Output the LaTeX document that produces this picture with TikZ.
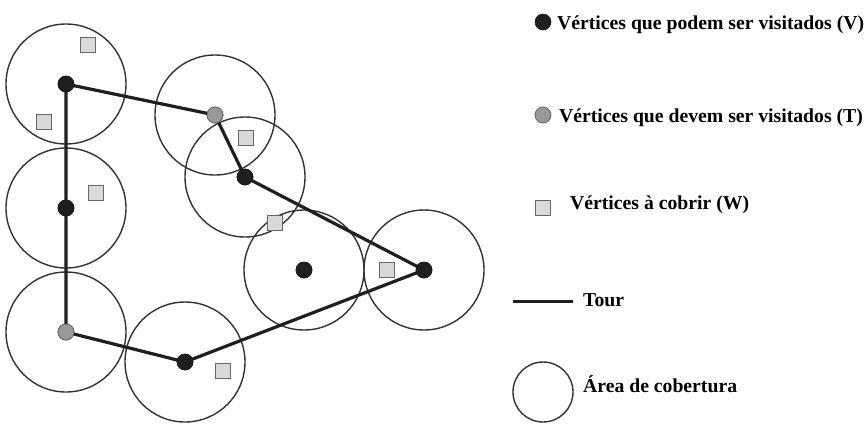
\documentclass[tikz,border=0pt]{standalone}
\usepackage{fontspec}
\setmainfont{Liberation Serif}
\tikzset{
  vis/.style={circle, fill=black!88, draw=black!90, line width=0.6pt, inner sep=0pt, minimum size=16pt},
  must/.style={circle, fill=black!40, draw=black!60, line width=0.8pt, inner sep=0pt, minimum size=16pt},
  cov/.style={rectangle, fill=black!15, draw=black!60, line width=1pt, inner sep=0pt, minimum size=15pt},
  area/.style={draw=black!80, line width=1.4pt},
  tour/.style={draw=black!88, line width=3.2pt, line join=round, line cap=round},
  lab/.style={anchor=base west, inner sep=0pt, font=\fontsize{19.7}{23}\selectfont\bfseries}
}
\begin{document}
\begin{tikzpicture}[x=1pt, y=-1pt]
\useasboundingbox (0,0) rectangle (868,424);
% vertex positions
\coordinate (p1) at (66,84);
\coordinate (p2) at (66,208);
\coordinate (p3) at (66,332);
\coordinate (p4) at (185,362);
\coordinate (p5) at (215,115);
\coordinate (p6) at (245,177);
\coordinate (p7) at (304,270);
\coordinate (p8) at (424,270);
% coverage areas
\foreach \p in {p1,p2,p3,p4,p5,p6,p7,p8}
  \draw[area] (\p) circle[radius=60];
% vertices
\node[vis]  (v1) at (p1) {};
\node[vis]  (v2) at (p2) {};
\node[must] (t2) at (p3) {};
\node[vis]  (v6) at (p4) {};
\node[must] (t1) at (p5) {};
\node[vis]  (v3) at (p6) {};
\node[vis]  (v4) at (p7) {};
\node[vis]  (v5) at (p8) {};
% tour
\draw[tour] (v1.center) -- (t1.center) -- (v3.center) -- (v5.center) -- (v6.center) -- (t2.center) -- (v2.center) -- cycle;
\node[vis]  at (p1) {};
\node[vis]  at (p2) {};
\node[must] at (p3) {};
\node[vis]  at (p4) {};
\node[must] at (p5) {};
\node[vis]  at (p6) {};
\node[vis]  at (p7) {};
\node[vis]  at (p8) {};
% vertices to cover
\node[cov] (w1) at (88,45) {};
\node[cov] (w2) at (44,122) {};
\node[cov] (w3) at (96,193) {};
\node[cov] (w4) at (246,138) {};
\node[cov] (w5) at (275,223) {};
\node[cov] (w6) at (387,270) {};
\node[cov] (w7) at (223,371) {};
% legend
\node[vis]  (lv) at (543,22) {};
\node[lab]  (lvt) at (557,29.5) {Vértices que podem ser visitados (V)};
\node[must] (lt) at (543,115) {};
\node[lab]  (ltt) at (559,122.7) {Vértices que devem ser visitados (T)};
\node[cov]  (lw) at (543,208) {};
\node[lab]  (lwt) at (570,209.3) {Vértices à cobrir (W)};
\coordinate (la) at (513,301.5);
\coordinate (lb) at (573,301.5);
\draw[tour, line cap=butt] (la) -- (lb);
\node[lab]  (ltour) at (583,306) {Tour};
\node[circle, area, minimum size=60pt, inner sep=0pt] (lc) at (543,392) {};
\node[lab]  (lct) at (583,392.7) {Área de cobertura};
\end{tikzpicture}
\end{document}
